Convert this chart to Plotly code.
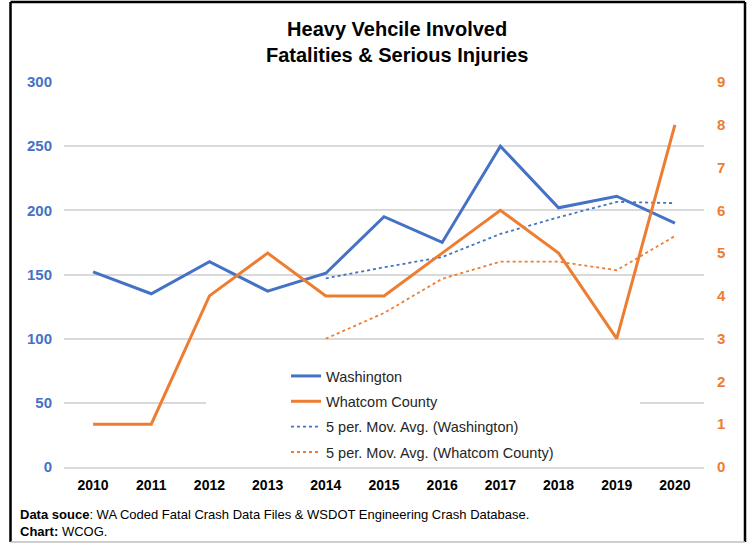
import plotly.graph_objects as go

years = ["2010", "2011", "2012", "2013", "2014", "2015", "2016", "2017", "2018", "2019", "2020"]
washington = [152, 135, 160, 137, 151, 195, 175, 250, 202, 211, 190]
whatcom = [1, 1, 4, 5, 4, 4, 5, 6, 5, 3, 8]
ma_years = ["2014", "2015", "2016", "2017", "2018", "2019", "2020"]
ma_washington = [147, 155.6, 163.6, 181.6, 194.6, 206.6, 205.6]
ma_whatcom = [3.0, 3.6, 4.4, 4.8, 4.8, 4.6, 5.4]

BLUE = "#4472C4"
ORANGE = "#ED7D31"
FONT = "Liberation Sans, Arial, sans-serif"

W, H = 747, 544
L, R, T, B = 64, 43, 82, 77
PW, PH = W - L - R, H - T - B

def px(x):
    return (x - L) / PW

def py(y):
    return (H - B - y) / PH

fig = go.Figure()
fig.add_trace(go.Scatter(x=years, y=washington, name="Washington", mode="lines",
                         line=dict(color=BLUE, width=3), legendgroup="a", yaxis="y"))
fig.add_trace(go.Scatter(x=years, y=whatcom, name="Whatcom County", mode="lines",
                         line=dict(color=ORANGE, width=3), legendgroup="b", yaxis="y2"))
fig.add_trace(go.Scatter(x=ma_years, y=ma_washington, name="5 per. Mov. Avg. (Washington)", mode="lines",
                         line=dict(color=BLUE, width=1.8, dash="dot"), legendgroup="c", yaxis="y"))
fig.add_trace(go.Scatter(x=ma_years, y=ma_whatcom, name="5 per. Mov. Avg. (Whatcom County)", mode="lines",
                         line=dict(color=ORANGE, width=1.8, dash="dot"), legendgroup="d", yaxis="y2"))

fig.update_layout(
    width=W, height=H,
    margin=dict(l=L, r=R, t=T, b=B, autoexpand=False),
    paper_bgcolor="white", plot_bgcolor="white",
    font=dict(family=FONT),
    xaxis=dict(type="category", range=[-0.5, 10.5], showgrid=False,
               showline=True, linecolor="#D9D9D9", linewidth=1.5, ticks="",
               tickfont=dict(size=14, color="black", family=FONT, weight="bold"),
               ticklabelstandoff=4, zeroline=False),
    yaxis=dict(range=[0, 300], dtick=50, showgrid=True, gridcolor="#D9D9D9", gridwidth=1.5,
               zeroline=False, showline=False, ticks="",
               tickfont=dict(size=15, color=BLUE, family=FONT, weight="bold"),
               ticklabelstandoff=11),
    yaxis2=dict(range=[0, 9], dtick=1, overlaying="y", side="right", showgrid=False,
                zeroline=False, showline=False, ticks="",
                tickfont=dict(size=15, color=ORANGE, family=FONT, weight="bold"),
                ticklabelstandoff=12),
    legend=dict(x=px(286), y=py(360), xanchor="left", yanchor="top",
                bgcolor="rgba(0,0,0,0)", traceorder="grouped", tracegroupgap=3.5,
                font=dict(size=14.5, color="#262626", family=FONT)),
    showlegend=True,
)

# title
fig.add_annotation(xref="paper", yref="paper", x=px(397), y=py(16), xanchor="center", yanchor="top",
                   showarrow=False, align="center",
                   text="<b>Heavy Vehcile Involved<br>Fatalities & Serious Injuries</b>",
                   font=dict(size=20, color="black", family=FONT))

# white legend background area (hides gridline behind legend)
fig.add_shape(type="rect", xref="paper", yref="paper",
              x0=px(206), x1=px(640), y0=py(462), y1=py(352),
              fillcolor="white", line=dict(width=0), layer="above")

# outer frame
fig.add_shape(type="line", xref="paper", yref="paper", x0=px(10.5), x1=px(10.5), y0=py(2), y1=py(542),
              line=dict(color="black", width=2.5))
fig.add_shape(type="line", xref="paper", yref="paper", x0=px(10.5), x1=px(745), y0=py(2), y1=py(2),
              line=dict(color="black", width=2.5))
fig.add_shape(type="line", xref="paper", yref="paper", x0=px(745), x1=px(745), y0=py(2), y1=py(542),
              line=dict(color="black", width=2.5))
fig.add_shape(type="line", xref="paper", yref="paper", x0=px(10.5), x1=px(745), y0=py(542), y1=py(542),
              line=dict(color="#BFBFBF", width=1.5))

fig.add_annotation(xref="paper", yref="paper", x=px(18), y=py(505), xanchor="left", yanchor="top",
                   align="left", showarrow=False,
                   text="<b>Data souce</b>: WA Coded Fatal Crash Data Files & WSDOT Engineering Crash Database.<br><b>Chart:</b> WCOG.",
                   font=dict(size=13, color="black", family="Liberation Sans Narrow, Arial Narrow, Liberation Sans, Arial"))

fig.write_html("out.html", config={"displayModeBar": False},
               post_script="document.body.style.margin='0';document.body.style.padding='0';")
